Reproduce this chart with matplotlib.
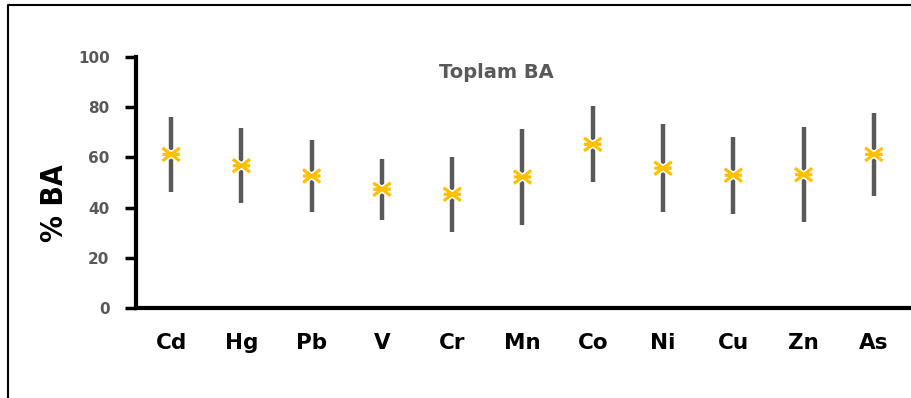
import matplotlib
matplotlib.use("Agg")
import matplotlib.pyplot as plt
from matplotlib.lines import Line2D
from matplotlib.path import Path
import matplotlib.patheffects as pe
import numpy as np

categories = ["Cd", "Hg", "Pb", "V", "Cr", "Mn", "Co", "Ni", "Cu", "Zn", "As"]
means = [61.2, 56.7, 52.6, 47.3, 45.3, 52.2, 65.2, 55.7, 52.9, 53.1, 61.2]
upper = [76.0, 71.7, 66.8, 59.4, 60.3, 71.2, 80.5, 73.2, 68.3, 72.0, 77.6]
lower = [46.3, 41.7, 38.1, 35.1, 30.2, 33.1, 50.1, 38.1, 37.5, 34.1, 44.6]
yticks = [0, 20, 40, 60, 80, 100]

fig = plt.figure(figsize=(9.12, 3.98), dpi=100)
ax = fig.add_axes([136/912, 1-308/398, (909-136)/912, (308-57)/398])

x = np.arange(len(categories))
m = np.array(means); u = np.array(upper); l = np.array(lower)
ax.vlines(x, l, u, color="#595959", lw=3.2, zorder=2)

star = Path([(-1, 0), (1, 0), (-1, -0.75), (1, 0.75), (-1, 0.75), (1, -0.75)],
            [Path.MOVETO, Path.LINETO, Path.MOVETO, Path.LINETO, Path.MOVETO, Path.LINETO])
ax.plot(x, m, linestyle="none", marker=star, markersize=12.5, markeredgewidth=2.3,
        markeredgecolor="#FFC000", markerfacecolor="none", zorder=3,
        path_effects=[pe.Stroke(linewidth=4.5, foreground="white"), pe.Normal()])

ax.set_xlim(-0.5, len(categories) - 0.5)
ax.set_ylim(0, 100)
ax.set_yticks(yticks)
ax.set_yticklabels([str(t) for t in yticks], fontsize=11, fontweight="bold",
                   color="#595959", family="DejaVu Sans")
ax.set_xticks(x)
ax.set_xticklabels(categories, fontsize=15.5, fontweight="bold", family="DejaVu Sans",
                   color="black")
ax.tick_params(axis="x", length=0, pad=18)
ax.tick_params(axis="y", length=8, width=2.5, color="black", pad=11)
for s in ["top", "right"]:
    ax.spines[s].set_visible(False)
for s in ["left", "bottom"]:
    ax.spines[s].set_linewidth(3)
    ax.spines[s].set_color("black")

fig.text(55/912, 1-203/398, "% BA", rotation=90, ha="center", va="center",
         fontsize=21.5, fontweight="bold", family="DejaVu Sans", fontstretch="condensed")
fig.text(496/912, 1-73/398, "Toplam BA", ha="center", va="center",
         fontsize=14, fontweight="bold", color="#595959", family="DejaVu Sans")

# outer border (top and left visible)
fig.add_artist(Line2D([8/912, 8/912, 1.0], [0.0, 1-5/398, 1-5/398],
                      transform=fig.transFigure, color="black", lw=1.5))

fig.savefig("out.png", dpi=100)
